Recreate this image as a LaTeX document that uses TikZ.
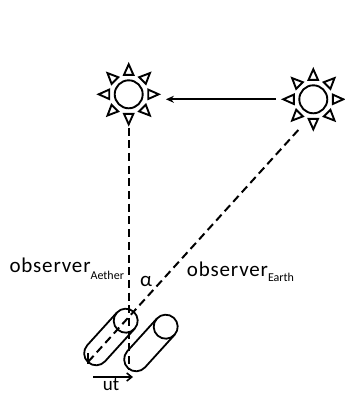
\documentclass[tikz,border=0pt]{standalone}
\usepackage{fontspec}
\setmainfont{Carlito}
\usetikzlibrary{arrows.meta}
\newcommand{\subtext}[2]{\raisebox{-#1pt}{\fontsize{12}{13}\selectfont\addfontfeature{LetterSpace=0}#2}}
\begin{document}
\begin{tikzpicture}[x=1pt,y=-1pt,
  sunline/.style={line width=1.9pt},
  sun/.pic={
    \draw[sunline] (0,0) circle[radius=14];
    \foreach \a in {0,45,...,315}{
      \draw[sunline,rotate=\a] (19.5,-4.7) -- (30,0) -- (19.5,4.7) -- cycle;}
  },
  sunnode/.style={circle,minimum size=74pt,inner sep=0pt},
  ray/.style={dash pattern=on 8pt off 4.7pt,line width=2pt},
  tube/.style={line width=1.8pt,line join=round},
  tele/.pic={
    \draw[tube] (0,0) circle[radius=12];
    \draw[tube] (0,12) -- (44,12) arc[start angle=90,end angle=-90,radius=12] -- (0,-12);
  },
  lbl/.style={inner sep=0pt,anchor=base west,
    font=\fontsize{21}{23}\selectfont\addfontfeature{LetterSpace=4}},
  sym/.style={inner sep=0pt,anchor=base,font=\fontsize{21}{23}\selectfont}
]
\useasboundingbox (0,0) rectangle (345,394);

% suns
\node[sunnode] (ls) at (128.7,94.3) {};
\node[sunnode] (rs) at (313.3,99.3) {};
\pic at (ls) {sun};
\pic at (rs) {sun};
\draw[line width=2pt,-{Stealth[length=8pt,width=7pt]}] (rs) -- (rs -| ls.east);

% light rays
\coordinate (vend) at (128.7,370);
\coordinate (dtop) at (298.3,130);
\coordinate (dend) at (88,362);
\draw[ray,shorten <=-4pt] (ls.south) -- (vend);
\draw[ray] (dtop) -- (dend);

% telescopes
\pic[rotate=227.8] at (125.7,320.7) {tele};
\pic[rotate=227.8] at (165.7,326.7) {tele};
\coordinate (t1) at (88.3,353);
\coordinate (t2) at (88.3,364);
\draw[tube] (t1) -- (t2);

% ut arrow
\coordinate (u1) at (93,377);
\coordinate (u2) at (133,377);
\draw[line width=1.6pt,-{Straight Barb[length=5pt,width=8pt]}] (u1) -- (u2);
\node[sym,font=\fontsize{19}{21}\selectfont] (ut) at (111,390.5) {ut};

% labels
\node[lbl] (oa) at (9.3,272.3) {observer\subtext{7.5}{Aether}};
\node[lbl] (oe) at (186.7,276.3) {observer\subtext{5.5}{Earth}};
\node[sym] (alpha) at (146,286.5) {α};
\end{tikzpicture}
\end{document}
